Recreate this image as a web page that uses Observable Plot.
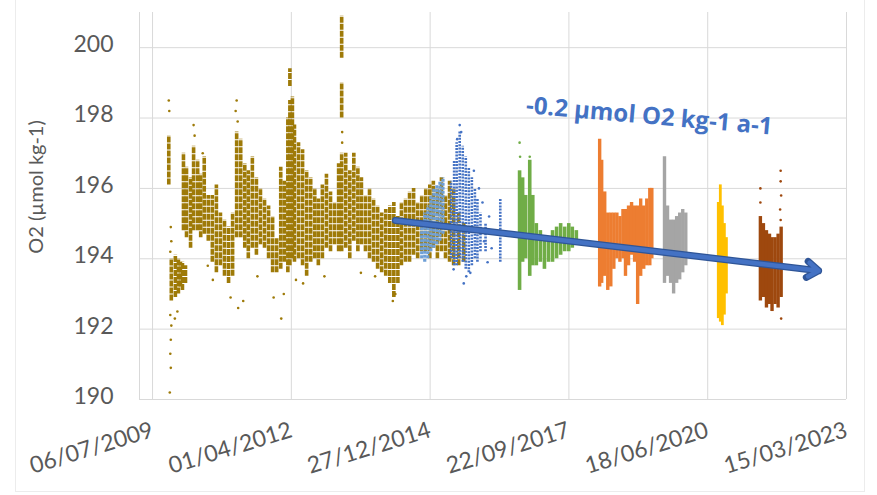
<!DOCTYPE html>
<html><head><meta charset="utf-8">
<script src="https://cdn.jsdelivr.net/npm/d3@7"></script>
<script src="https://cdn.jsdelivr.net/npm/@observablehq/plot@0.6"></script>
<style>
html,body{margin:0;padding:0;background:#fff;}
#chart{position:relative;width:877px;height:495px;overflow:hidden;}
#box{position:absolute;left:15px;top:-2px;width:850px;height:494px;border:1px solid #ececec;box-sizing:border-box;pointer-events:none;}
</style></head>
<body><div id="chart"><div id="box"></div></div>
<script>
// ---- axis labels / ticks ----
const xTickLabels = ["06/07/2009","01/04/2012","27/12/2014","22/09/2017","18/06/2020","15/03/2023"];
const xDomainLabels = ["03/04/2009","15/03/2023"];
const yTicks = [190,192,194,196,198,200];
const yDomain = [190,201];
const yTitle = "O2 (µmol kg-1)";
const trendLabel = "-0.2 µmol O2 kg-1 a-1";

// ---- series: [decimal year, low, high] vertical spread of the dense point clouds ----
const goldSpread = [
 [2009.83,196.1,197.5],[2009.88,192.8,194.0],[2009.96,192.9,194.1],[2010.02,193.0,194.0],[2010.06,193.2,193.9],
 [2010.10,193.1,193.9],[2010.16,193.3,193.8],
 [2010.12,194.8,197.0],[2010.18,194.6,196.6],[2010.26,194.3,196.3],[2010.32,194.8,197.2],[2010.40,194.8,196.8],
 [2010.46,194.6,196.4],[2010.53,194.7,196.9],[2010.61,194.5,195.8],[2010.69,193.9,195.8],[2010.77,193.6,196.1],
 [2010.85,193.8,195.3],[2010.93,193.5,195.1],[2011.01,193.3,194.9],[2011.09,193.5,195.3],[2011.17,194.6,197.6],
 [2011.25,194.6,197.4],[2011.33,194.3,196.7],[2011.40,194.0,196.5],[2011.48,194.3,196.9],[2011.56,194.1,196.3],
 [2011.64,194.4,196.0],[2011.72,194.3,195.7],[2011.80,194.0,195.5],[2011.88,193.6,195.2],[2011.96,193.6,194.6],
 [2012.04,193.7,196.6],[2012.11,193.9,196.2],[2012.18,193.6,198.0],[2012.22,193.8,198.5],[2012.22,198.9,199.4],
 [2012.27,194.0,198.6],[2012.31,193.9,197.8],[2012.39,194.0,197.3],[2012.47,193.8,197.1],[2012.55,193.5,196.5],
 [2012.63,193.9,196.3],[2012.71,194.0,196.0],[2012.78,193.8,195.7],[2012.86,194.0,196.1],[2012.94,194.3,196.4],
 [2013.02,194.2,195.9],[2013.10,194.4,195.6],[2013.18,194.2,196.7],[2013.24,199.7,200.9],[2013.24,198.0,199.0],
 [2013.24,194.2,197.0],[2013.32,194.3,197.0],[2013.40,194.0,196.5],[2013.48,194.5,197.0],[2013.56,194.2,196.6],
 [2013.63,194.4,196.3],[2013.71,194.2,195.8],[2013.79,194.0,196.0],[2013.87,193.9,195.7],[2013.95,193.7,195.5],
 [2014.03,193.6,195.3],[2014.11,193.5,195.4],[2014.19,193.3,195.5],[2014.27,192.9,195.6],[2014.35,193.3,195.2],
 [2014.42,193.8,195.6],[2014.50,193.9,195.7],[2014.58,193.9,195.9],[2014.66,194.1,196.0],[2014.74,194.0,195.6],
 [2014.82,194.2,195.8],[2014.90,194.2,196.0],[2014.98,194.0,196.1],[2015.05,194.3,196.2],[2015.13,194.0,196.0],
 [2015.21,194.2,196.3],[2015.29,194.0,195.8],[2015.37,193.9,196.2],[2015.45,193.8,196.0],[2015.55,193.8,195.3],
 [2015.65,193.9,195.0]
];
const goldPoints = [
 [2009.83,198.5],[2009.84,198.2],[2009.87,194.9],[2009.88,194.5],[2009.86,194.2],[2009.86,192.4],[2009.88,192.1],
 [2009.87,191.7],[2009.86,191.3],[2009.87,190.9],[2009.85,190.2],[2009.95,192.3],[2010.00,192.5],[2010.32,197.8],
 [2010.34,197.5],[2010.50,197.0],[2011.17,198.5],[2011.15,198.2],[2011.19,197.9],[2011.20,192.6],[2011.30,192.8],
 [2011.05,192.9],[2012.10,193.0],[2012.05,192.3],[2012.34,193.4],[2012.90,193.5],[2013.25,197.6],[2013.25,197.3],
 [2013.62,193.6],[2013.90,193.5],[2014.25,192.8],[2014.30,193.0],[2010.70,193.4],[2010.60,193.8],[2011.58,193.5],
 [2011.90,192.9],[2012.48,193.3]
];
const lightBlueSpread = [
 [2014.82,194.0,195.0],[2014.88,193.9,195.3],[2014.94,194.0,195.5],[2015.00,194.2,195.8],[2015.06,194.3,196.0],
 [2015.12,194.4,196.1],[2015.18,194.5,196.2],[2015.24,194.7,196.3]
];
const blueSpread = [
 [2015.40,194.0,196.2],[2015.46,193.8,196.8],[2015.51,193.8,197.3],[2015.57,194.0,197.6],[2015.63,193.9,197.2],
 [2015.69,193.7,196.9],[2015.75,193.6,196.6],[2015.81,193.8,196.3],[2015.87,194.0,196.0],[2015.92,193.9,195.7],
 [2015.98,194.2,195.3],[2016.08,194.2,195.0],[2016.37,193.9,195.7]
];
const bluePoints = [
 [2015.57,197.8],[2015.60,197.6],[2015.52,197.4],[2015.65,193.3],[2015.70,193.5],[2015.78,193.6],[2016.05,194.5],
 [2016.10,194.8],[2016.15,195.2],[2016.02,195.6],[2016.20,194.3],[2016.12,193.9],[2015.95,196.0],[2015.85,196.5],
 [2015.45,193.7]
];
const greenSpread = [
 [2016.75,193.1,196.5],[2016.81,193.9,196.3],[2016.87,194.0,195.8],[2016.95,193.5,196.8],[2017.01,193.8,195.8],
 [2017.08,193.8,195.0],[2017.16,193.9,194.8],[2017.24,193.7,194.6],[2017.32,193.9,194.6],[2017.40,193.9,194.8],
 [2017.48,194.0,194.9],[2017.56,194.1,195.0],[2017.64,194.2,194.9],[2017.72,194.2,195.0],[2017.79,194.3,194.9],
 [2017.87,194.4,194.8]
];
const greenPoints = [[2016.75,197.3],[2016.76,196.9],[2016.95,196.9]];
const orangeSpread = [
 [2018.33,193.2,197.4],[2018.37,193.3,196.8],[2018.43,193.5,195.9],[2018.49,193.1,195.3],[2018.55,193.2,195.3],
 [2018.61,193.7,195.3],[2018.67,194.0,195.3],[2018.73,193.9,195.2],[2018.79,194.0,195.4],[2018.84,193.5,195.4],
 [2018.90,193.8,195.5],[2018.96,194.1,195.6],[2019.02,193.9,195.5],[2019.08,192.7,195.5],[2019.14,193.5,195.7],
 [2019.20,193.7,195.5],[2019.26,193.8,195.7],[2019.32,193.8,196.0],[2019.36,194.0,196.0]
];
const graySpread = [
 [2019.61,193.3,196.9],[2019.67,193.5,195.5],[2019.73,193.3,195.1],[2019.79,193.0,195.1],[2019.85,193.3,195.2],
 [2019.91,193.4,195.3],[2019.97,193.6,195.4],[2020.03,193.8,195.3]
];
const yellowSpread = [
 [2020.67,192.3,195.6],[2020.71,192.2,196.1],[2020.75,192.1,195.5],[2020.79,192.4,195.0],[2020.83,193.0,194.6]
];
const brownSpread = [
 [2021.50,192.8,195.2],[2021.56,192.9,195.0],[2021.62,192.6,194.8],[2021.68,192.7,194.7],[2021.73,192.5,194.6],
 [2021.79,192.7,194.6],[2021.85,192.6,194.7],[2021.91,192.9,194.9]
];
const brownPoints = [
 [2021.90,196.5],[2021.90,196.2],[2021.91,195.8],[2021.89,195.4],[2021.90,195.1],[2021.50,196.0],[2021.50,195.6],[2021.91,192.3]
];
// trend arrow: [start year, start value, end year, end value]
const trend = [2014.30, 195.09, 2022.65, 193.66];
const trendLabelPos = [2019.31, 198.05];

// ---- colours ----
const colors = {gold:"#9e7a08", lightBlue:"#6e9fd6", blue:"#4472C4", green:"#70AD47", orange:"#ED7D31",
  gray:"#A5A5A5", yellow:"#FFC000", brown:"#9E480E", arrow:"#4472C4", arrowEdge:"#2F5597", text:"#595959", grid:"#d9d9d9"};

// ---- helpers ----
function toDate(y){const yr=Math.floor(y);const s=Date.UTC(yr,0,1),e=Date.UTC(yr+1,0,1);return new Date(s+(y-yr)*(e-s));}
function parseDMY(s){const [d,m,y]=s.split("/").map(Number);return new Date(Date.UTC(y,m-1,d));}
const spread = a => a.map(([t,lo,hi]) => ({date:toDate(t), lo, hi}));
const pts = a => a.map(([t,v]) => ({date:toDate(t), v}));
const xTicks = xTickLabels.map(parseDMY);
const labelMap = new Map(xTicks.map((d,i)=>[+d, xTickLabels[i]]));
const xDomain = xDomainLabels.map(parseDMY);

function cloud(arr, color, w, dash){
  return Plot.ruleX(spread(arr), {x:"date", y1:"lo", y2:"hi", stroke:color, strokeWidth:w, strokeDasharray:dash});
}
function dots(arr, color){
  return Plot.dot(pts(arr), {x:"date", y:"v", r:1.3, fill:color, stroke:null});
}
const arrowOpts = (color, w, head) => ({x1:d=>toDate(d[0]), y1:d=>d[1], x2:d=>toDate(d[2]), y2:d=>d[3], stroke:color, strokeWidth:w, headLength:head, headAngle:70});

const chart = Plot.plot({
  width:877, height:495,
  marginLeft:139, marginRight:31, marginTop:12, marginBottom:96,
  style:{fontFamily:"Lato, 'Open Sans', sans-serif", color:colors.text, background:"transparent"},
  x:{type:"utc", domain:xDomain},
  y:{domain:yDomain},
  marks:[
    Plot.gridY(yTicks, {stroke:colors.grid, strokeOpacity:1}),
    Plot.gridX(xTicks, {stroke:colors.grid, strokeOpacity:1}),
    Plot.ruleX([xDomain[0]], {stroke:colors.grid, strokeOpacity:1}),
    cloud(goldSpread, colors.gold, 3.6, "6,1"),
    dots(goldPoints, colors.gold),
    cloud(lightBlueSpread, colors.lightBlue, 3.2, "3,1"),
    cloud(blueSpread, colors.blue, 2.6, "2,1.2"),
    dots(bluePoints, colors.blue),
    cloud(greenSpread, colors.green, 3.6, null),
    dots(greenPoints, colors.green),
    cloud(orangeSpread, colors.orange, 3.4, null),
    cloud(graySpread, colors.gray, 3.4, null),
    cloud(yellowSpread, colors.yellow, 2.8, null),
    cloud(brownSpread, colors.brown, 3.4, null),
    dots(brownPoints, colors.brown),
    Plot.arrow([trend], arrowOpts(colors.arrowEdge, 7, 3)),
    Plot.arrow([trend], arrowOpts(colors.arrow, 4.5, 4)),
    Plot.text([trendLabel], {x:toDate(trendLabelPos[0]), y:trendLabelPos[1], rotate:5, fontSize:24, fontWeight:700, fontFamily:"'Open Sans', sans-serif", fill:colors.blue}),
    Plot.text([yTitle], {frameAnchor:"left", textAnchor:"middle", rotate:-90, dx:-103, dy:-19, fontSize:20, fill:colors.text}),
    Plot.axisY(yTicks, {tickSize:0, tickPadding:26, fontSize:23, dy:-3, label:null}),
    Plot.axisX(xTicks, {tickSize:0, tickPadding:30, tickRotate:-17, fontSize:23, label:null, tickFormat:d=>labelMap.get(+d)})
  ]
});
document.getElementById("chart").appendChild(chart);
chart.style.position="absolute"; chart.style.left="0"; chart.style.top="0";
</script>
</body></html>
